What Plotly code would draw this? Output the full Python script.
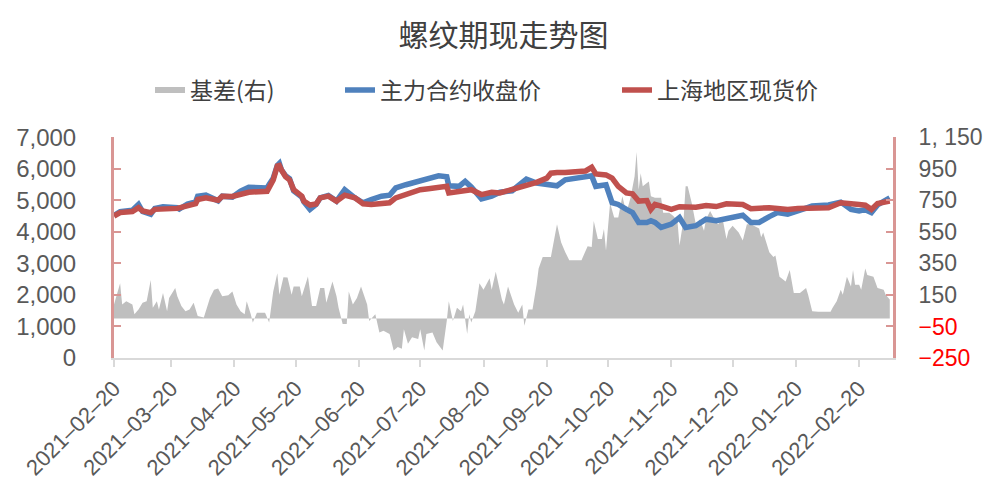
import plotly.graph_objects as go

# ---------------- data ----------------
price_dates = [
    "2021-02-20", "2021-02-23", "2021-03-01", "2021-03-04", "2021-03-06", "2021-03-10",
    "2021-03-12", "2021-03-16", "2021-03-23", "2021-03-24", "2021-03-28", "2021-04-01",
    "2021-04-02", "2021-04-06", "2021-04-12", "2021-04-14", "2021-04-19", "2021-04-23",
    "2021-04-27", "2021-05-06", "2021-05-07", "2021-05-09", "2021-05-11", "2021-05-12",
    "2021-05-13", "2021-05-15", "2021-05-17", "2021-05-19", "2021-05-23", "2021-05-24",
    "2021-05-27", "2021-05-30", "2021-06-01", "2021-06-05", "2021-06-09", "2021-06-13",
    "2021-06-18", "2021-06-22", "2021-06-26", "2021-07-01", "2021-07-05", "2021-07-08",
    "2021-07-13", "2021-07-20", "2021-07-24", "2021-07-29", "2021-08-02", "2021-08-03",
    "2021-08-08", "2021-08-11", "2021-08-14", "2021-08-19", "2021-08-24", "2021-08-28",
    "2021-09-03", "2021-09-10", "2021-09-15", "2021-09-20", "2021-09-22", "2021-09-25",
    "2021-09-29", "2021-10-09", "2021-10-12", "2021-10-14", "2021-10-19", "2021-10-22",
    "2021-10-25", "2021-10-29", "2021-11-01", "2021-11-04", "2021-11-08", "2021-11-10",
    "2021-11-12", "2021-11-15", "2021-11-20", "2021-11-24", "2021-11-27", "2021-12-02",
    "2021-12-07", "2021-12-12", "2021-12-17", "2021-12-21", "2021-12-25", "2021-12-29",
    "2022-01-02", "2022-01-07", "2022-01-11", "2022-01-16", "2022-01-21", "2022-01-28",
    "2022-02-05", "2022-02-11", "2022-02-16", "2022-02-20", "2022-02-23", "2022-02-26",
    "2022-03-01", "2022-03-07",
]

spot_price = [
    4500, 4607, 4640, 4763, 4660, 4607,
    4710, 4710, 4741, 4760, 4835, 4888,
    5022, 5075, 5000, 5128, 5120, 5209,
    5253, 5284, 5440, 5646, 6083, 6100,
    5958, 5750, 5646, 5334, 5128, 4972,
    4847, 4880, 5075, 5128, 4972, 5159,
    5075, 4888, 4866, 4888, 4919, 5075,
    5178, 5334, 5365, 5408, 5440, 5231,
    5284, 5300, 5334, 5178, 5253, 5231,
    5334, 5490, 5565, 5699, 5855, 5877,
    5877, 5927, 6042, 5833, 5802, 5699,
    5440, 5231, 5200, 4972, 4990, 4710,
    4866, 4816, 4710, 4794, 4794, 4780,
    4835, 4800, 4888, 4888, 4866, 4732,
    4763, 4763, 4740, 4710, 4740, 4740,
    4763, 4919, 4866, 4866, 4840, 4710,
    4897, 4972,
]

futures_price = [
    4520, 4640, 4680, 4866, 4640, 4554,
    4740, 4790, 4760, 4720, 4880, 4950,
    5128, 5160, 4980, 5128, 5100, 5284,
    5408, 5390, 5500, 5700, 6100, 6167,
    5960, 5780, 5680, 5300, 5100, 4950,
    4710, 4866, 5075, 5150, 4972, 5334,
    5075, 4920, 5022, 5128, 5160, 5387,
    5490, 5596, 5699, 5771, 5740, 5458,
    5440, 5596, 5420, 5044, 5128, 5253,
    5300, 5668, 5543, 5490, 5490, 5458,
    5646, 5721, 5771, 5440, 5490, 4919,
    4866, 4710, 4607, 4295, 4295, 4348,
    4295, 4139, 4242, 4451, 4139, 4192,
    4398, 4348, 4400, 4451, 4523, 4295,
    4295, 4482, 4607, 4554, 4660, 4816,
    4850, 4940, 4710, 4660, 4700, 4607,
    4850, 5075,
]

basis_dates = [
    "2021-02-20", "2021-02-23", "2021-02-24", "2021-02-26", "2021-03-01", "2021-03-02",
    "2021-03-04", "2021-03-06", "2021-03-08", "2021-03-10", "2021-03-11", "2021-03-13",
    "2021-03-14", "2021-03-16", "2021-03-18", "2021-03-19", "2021-03-22", "2021-03-23",
    "2021-03-25", "2021-03-27", "2021-03-29", "2021-03-31", "2021-04-02", "2021-04-05",
    "2021-04-08", "2021-04-10", "2021-04-12", "2021-04-14", "2021-04-17", "2021-04-19",
    "2021-04-21", "2021-04-23", "2021-04-25", "2021-04-26", "2021-04-28", "2021-04-29",
    "2021-05-01", "2021-05-05", "2021-05-07", "2021-05-09", "2021-05-11", "2021-05-12",
    "2021-05-14", "2021-05-16", "2021-05-18", "2021-05-19", "2021-05-22", "2021-05-23",
    "2021-05-26", "2021-05-28", "2021-05-30", "2021-06-01", "2021-06-03", "2021-06-04",
    "2021-06-07", "2021-06-09", "2021-06-10", "2021-06-12", "2021-06-14", "2021-06-15",
    "2021-06-17", "2021-06-19", "2021-06-21", "2021-06-24", "2021-06-25", "2021-06-28",
    "2021-06-30", "2021-07-02", "2021-07-05", "2021-07-07", "2021-07-09", "2021-07-11",
    "2021-07-12", "2021-07-14", "2021-07-16", "2021-07-19", "2021-07-20", "2021-07-22",
    "2021-07-23", "2021-07-26", "2021-07-28", "2021-07-31", "2021-08-02", "2021-08-03",
    "2021-08-05", "2021-08-07", "2021-08-09", "2021-08-10", "2021-08-12", "2021-08-13",
    "2021-08-14", "2021-08-16", "2021-08-18", "2021-08-20", "2021-08-23", "2021-08-24",
    "2021-08-26", "2021-08-29", "2021-08-30", "2021-09-01", "2021-09-04", "2021-09-06",
    "2021-09-08", "2021-09-09", "2021-09-11", "2021-09-13", "2021-09-15", "2021-09-16",
    "2021-09-18", "2021-09-22", "2021-09-25", "2021-09-27", "2021-09-29", "2021-10-01",
    "2021-10-07", "2021-10-10", "2021-10-12", "2021-10-13", "2021-10-15", "2021-10-17",
    "2021-10-18", "2021-10-19", "2021-10-21", "2021-10-23", "2021-10-25", "2021-10-27",
    "2021-10-29", "2021-10-31", "2021-11-02", "2021-11-03", "2021-11-04", "2021-11-05",
    "2021-11-06", "2021-11-09", "2021-11-10", "2021-11-12", "2021-11-15", "2021-11-16",
    "2021-11-19", "2021-11-21", "2021-11-23", "2021-11-24", "2021-11-26", "2021-11-27",
    "2021-11-28", "2021-11-30", "2021-12-02", "2021-12-04", "2021-12-06", "2021-12-07",
    "2021-12-09", "2021-12-12", "2021-12-13", "2021-12-15", "2021-12-17", "2021-12-18",
    "2021-12-20", "2021-12-23", "2021-12-25", "2021-12-27", "2021-12-29", "2022-01-02",
    "2022-01-03", "2022-01-04", "2022-01-07", "2022-01-09", "2022-01-10", "2022-01-12",
    "2022-01-15", "2022-01-17", "2022-01-19", "2022-01-22", "2022-01-25", "2022-01-26",
    "2022-01-28", "2022-01-31", "2022-02-06", "2022-02-07", "2022-02-09", "2022-02-11",
    "2022-02-12", "2022-02-14", "2022-02-16", "2022-02-17", "2022-02-18", "2022-02-20",
    "2022-02-21", "2022-02-23", "2022-02-24", "2022-02-27", "2022-03-01", "2022-03-04",
    "2022-03-05", "2022-03-07",
]

basis = [
    89, 224, 89, 110, 89, 27,
    58, 100, 110, 245, 68, 110,
    58, 162, 47, 131, 193, 141,
    79, 47, 58, 100, 16, 6,
    131, 183, 190, 141, 147, 172,
    89, 47, 27, 110, 27, -25,
    37, 37, -25, 172, 287, 151,
    262, 260, 151, 203, 203, 141,
    266, 79, 79, 193, 193, 100,
    235, 141, 68, -35, -35, 172,
    89, 131, 203, 89, -15, 27,
    -88, -77, -98, -202, -181, -192,
    -67, -160, -119, -129, -67, -202,
    -98, -88, -150, -202, -15, 110,
    -15, 68, 47, 89, -98, 27,
    -25, 47, 224, 183, 255, 183,
    297, 120, 89, 203, 89, 37,
    89, -46, 58, 58, 214, 318,
    390, 390, 598, 484, 422, 370,
    370, 459, 453, 619, 504, 504,
    567, 432, 733, 640, 640, 775,
    671, 765, 900, 1056, 817, 921,
    838, 869, 775, 765, 765, 671,
    671, 650, 619, 463, 629, 838,
    838, 733, 598, 629, 557, 629,
    681, 609, 598, 640, 504, 557,
    588, 546, 494, 598, 598, 570,
    515, 546, 421, 390, 400, 265,
    235, 307, 162, 162, 193, 151,
    47, 43, 43, 68, 110, 183,
    151, 265, 203, 307, 214, 214,
    183, 317, 276, 265, 193, 183,
    151, 120,
]

x_tick_vals = [
    "2021-02-20", "2021-03-20", "2021-04-20", "2021-05-20", "2021-06-20", "2021-07-20",
    "2021-08-20", "2021-09-20", "2021-10-20", "2021-11-20", "2021-12-20", "2022-01-20",
    "2022-02-20",
]
x_tick_text = [v.replace("-", "\u2013") for v in x_tick_vals]

left_tick_vals = [0, 1000, 2000, 3000, 4000, 5000, 6000, 7000]
left_tick_text = ["0", "1,000", "2,000", "3,000", "4,000", "5,000", "6,000", "7,000"]

right_tick_vals = [-250, -50, 150, 350, 550, 750, 950, 1150]
right_tick_text = ["\u2212250", "\u221250", "150", "350", "550", "750", "950", "1, 150"]

# ---------------- styling ----------------
AXIS_PINK = "#D99694"
TXT = "#595959"
NUM_FONT = "Liberation Sans, Arial, sans-serif"
CJK_FONT = "Noto Sans CJK SC, sans-serif"
W, H = 995, 496


def fmt_right(t):
    if t.startswith("\u2212"):
        return "<span style='color:#FF0000'>" + t + "</span>"
    return t


def legend_box(left_px):
    return dict(
        orientation="h", x=left_px / W, xanchor="left", xref="container",
        y=1 - 90 / H, yref="container", yanchor="middle",
        font=dict(family=CJK_FONT, size=23, color="#404040"),
        bgcolor="rgba(0,0,0,0)", itemwidth=30,
    )


fig = go.Figure()

fig.add_trace(go.Scatter(
    x=basis_dates, y=basis, name="基差(右)", mode="none",
    fill="tozeroy", fillcolor="#BFBFBF", yaxis="y", legend="legend",
))
fig.add_trace(go.Scatter(
    x=price_dates, y=futures_price, name="主力合约收盘价", mode="lines",
    line=dict(color="#4F81BD", width=5.5), yaxis="y2", legend="legend2",
))
fig.add_trace(go.Scatter(
    x=price_dates, y=spot_price, name="上海地区现货价", mode="lines",
    line=dict(color="#C0504D", width=5.5), yaxis="y2", legend="legend3",
))

fig.update_layout(
    width=W, height=H,
    margin=dict(l=114, r=100, t=133, b=138),
    paper_bgcolor="white", plot_bgcolor="white",
    font=dict(family=NUM_FONT, size=22, color=TXT),
    title=dict(
        text="螺纹期现走势图", x=0.5, xref="paper", xanchor="center",
        y=1 - 35 / H, yref="container", yanchor="middle",
        font=dict(family=CJK_FONT, size=30, color="#404040"),
    ),
    showlegend=True,
    legend=legend_box(150),
    legend2=legend_box(340),
    legend3=legend_box(617),
    xaxis=dict(
        type="date",
        range=["2021-02-20", "2022-03-08 14:00"],
        tickvals=x_tick_vals, ticktext=x_tick_text,
        tickangle=-45,
        showgrid=False, zeroline=False,
        showline=True, linecolor="#D9D9D9", linewidth=2,
        ticks="outside", ticklen=7, tickwidth=2, tickcolor="#D9D9D9",
        tickfont=dict(family=NUM_FONT, size=22, color=TXT),
    ),
    yaxis=dict(
        side="right", range=[-250, 1150],
        tickvals=right_tick_vals, ticktext=[fmt_right(t) for t in right_tick_text],
        showgrid=False, zeroline=False,
        showline=True, linecolor=AXIS_PINK, linewidth=3,
        ticks="inside", ticklen=7, tickwidth=2, tickcolor=AXIS_PINK,
        ticklabelstandoff=18,
        tickfont=dict(family=NUM_FONT, size=23, color=TXT),
    ),
    yaxis2=dict(
        side="left", overlaying="y", range=[0, 7000],
        tickvals=left_tick_vals, ticktext=left_tick_text,
        showgrid=False, zeroline=False,
        showline=True, linecolor=AXIS_PINK, linewidth=3,
        ticks="inside", ticklen=7, tickwidth=2, tickcolor=AXIS_PINK,
        ticklabelstandoff=30,
        tickfont=dict(family=NUM_FONT, size=24, color=TXT),
    ),
)

fig.write_html("out.html")
